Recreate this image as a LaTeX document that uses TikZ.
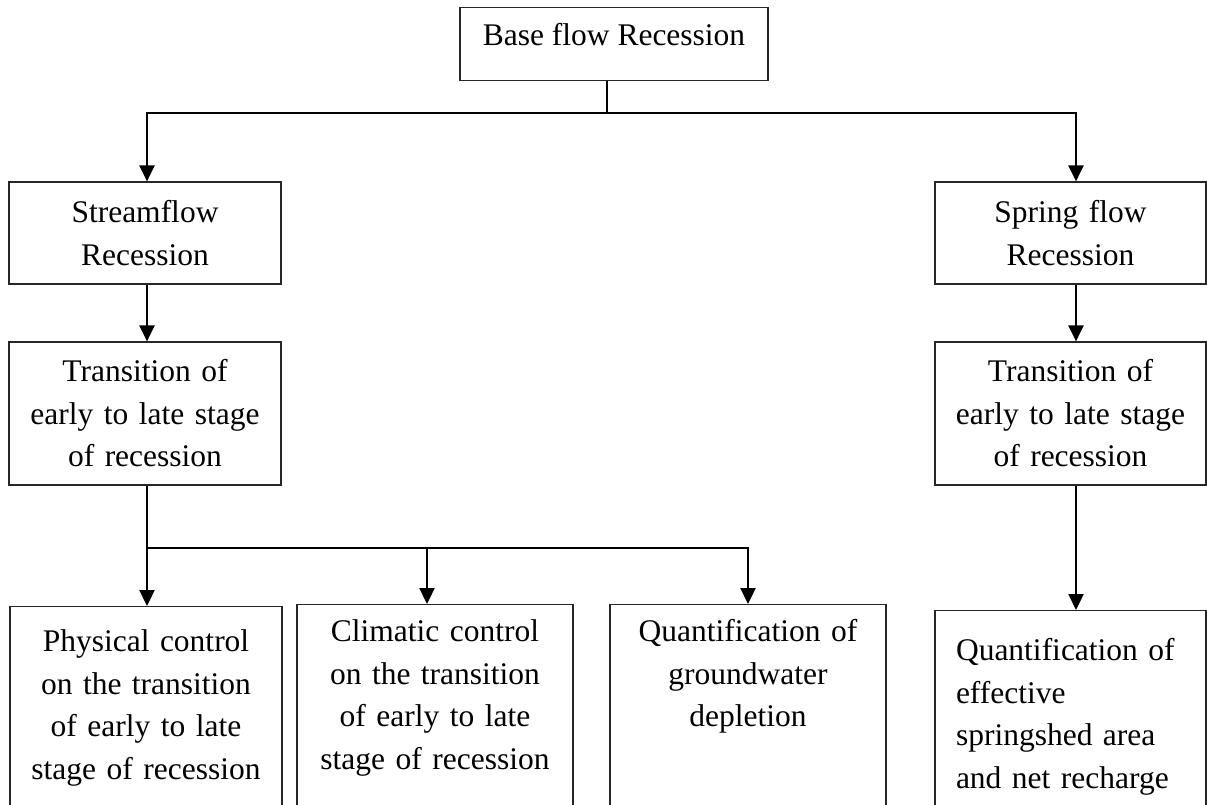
\documentclass[tikz,border=0pt]{standalone}
\usepackage{fontspec}
\setmainfont{Liberation Serif}
\usetikzlibrary{arrows.meta}
\begin{document}
\begin{tikzpicture}[x=1pt,y=-1pt,
  box/.style={draw=black!85,line width=1.2pt,inner sep=0pt,align=center,
    font=\fontsize{31.5}{42.5}\selectfont},
  midbox/.style={box,minimum height=102pt},
  leaf/.style={box,anchor=north,text height=37pt,text depth=260pt},
  conn/.style={black,line width=2.3pt},
  arr/.style={conn,-{Triangle[length=16pt,width=15pt]}}]
\useasboundingbox (0,0) rectangle (1207,805);
\clip (0,0) rectangle (1207,805);
\node [box,anchor=north,minimum width=308pt,text height=38pt,text depth=35pt] (base) at (614,7) {Base flow Recession};
\node [midbox,text width=272pt] (strm) at (145,233) {Streamflow\\Recession};
\node [midbox,text width=271pt] (sprg) at (1070.5,233) {Spring flow\\Recession};
\node [box,text width=272pt,minimum height=143pt] (trl) at (145,413.5) {Transition of\\early to late stage\\of recession};
\node [box,text width=271pt,minimum height=143pt] (trr) at (1070.5,413.5) {Transition of\\early to late stage\\of recession};
\node [leaf,text width=272pt,text height=45pt] (phys) at (146,606) {Physical control\\on the transition\\of early to late\\stage of recession};
\node [leaf,text width=276pt] (clim) at (435,604) {Climatic control\\on the transition\\of early to late\\stage of recession};
\node [leaf,text width=276pt] (gw) at (748,604) {Quantification of\\groundwater\\depletion};
\node [leaf,text width=229pt,inner xsep=21pt,align=left,text height=50pt] (qnt) at (1070.5,610) {Quantification of\\effective\\springshed area\\and net recharge};
\coordinate (bus) at (607,113);
\coordinate (lbus) at (147,113);
\coordinate (rbus) at (1076,113);
\coordinate (fork) at (147,548);
\coordinate (cbr) at (427,548);
\coordinate (gbr) at (748,548);
\draw [conn] (base.south -| bus) -- (bus);
\draw [arr] (bus) -- (lbus) -- (lbus |- strm.north);
\draw [arr] (bus) -- (rbus) -- (rbus |- sprg.north);
\draw [arr] (strm.south -| lbus) -- (trl.north -| lbus);
\draw [arr] (sprg.south -| rbus) -- (trr.north -| rbus);
\draw [arr] (trl.south -| fork) -- (fork |- phys.north);
\draw [arr] (fork) -- (gbr) -- (gw.north);
\draw [arr] (cbr) -- (cbr |- clim.north);
\draw [arr] (trr.south -| rbus) -- (qnt.north -| rbus);
\end{tikzpicture}
\end{document}
